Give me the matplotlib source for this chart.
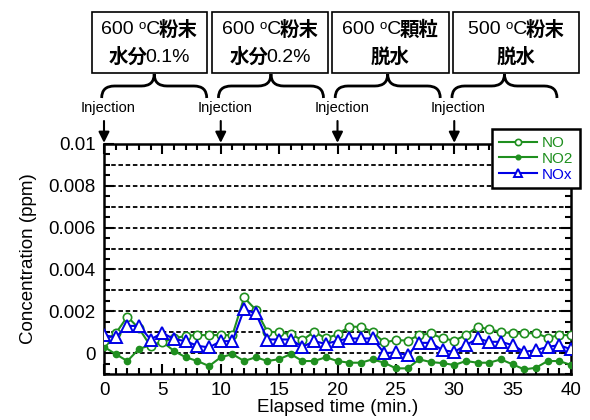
import matplotlib
matplotlib.use("Agg")
import matplotlib.pyplot as plt
import matplotlib.transforms as mtransforms
from matplotlib.path import Path
from matplotlib.patches import PathPatch, Rectangle
from matplotlib.ticker import MultipleLocator, FixedLocator, FixedFormatter

plt.rcParams['font.family'] = ['Liberation Sans', 'Noto Sans CJK JP', 'DejaVu Sans']

# elapsed time (min.)
time_min = list(range(0, 41))

no_ppm = [0.00057, 0.00094, 0.00174, 0.00118, 0.00032, 0.00054, 0.0007, 0.00083, 0.00086, 0.00086,
          0.00086, 0.00086, 0.00266, 0.00207, 0.00102, 0.001, 0.0009, 0.00062, 0.00102, 0.0007,
          0.0009, 0.00126, 0.00126, 0.00102, 0.00051, 0.00062, 0.0006, 0.00086, 0.00094, 0.0007,
          0.0006, 0.00086, 0.00126, 0.00113, 0.00102, 0.00094, 0.00094, 0.00096, 0.00073, 0.00086,
          0.00086]
no2_ppm = [0.0003, -0.00005, -0.00038, 0.0002, 0.00038, 0.00054, 0.0001, -0.0002, -0.00038, -0.00062,
           -0.0002, -0.00005, -0.00038, -0.0002, -0.00038, -0.00029, -0.00005, -0.00038, -0.00038, -0.0002,
           -0.00038, -0.00046, -0.00046, -0.0003, -0.00046, -0.00073, -0.00073, -0.0003, -0.00043, -0.00048,
           -0.00057, -0.00038, -0.00046, -0.00046, -0.0003, -0.00054, -0.00078, -0.0007, -0.00038, -0.00038,
           -0.00057]
nox_ppm = [0.00086, 0.00075, 0.0013, 0.0013, 0.00065, 0.00097, 0.00067, 0.00057, 0.00035, 0.00027,
           0.00057, 0.00057, 0.00209, 0.0019, 0.00065, 0.00065, 0.00065, 0.0003, 0.00057, 0.00044,
           0.00059, 0.0007, 0.0007, 0.0007, 0.0, 0.00003, -0.0001, 0.00049, 0.00049, 0.00014,
           0.00006, 0.00038, 0.0007, 0.00054, 0.00054, 0.00038, 0.00006, 0.00014, 0.0003, 0.00038,
           0.00018]

injection_times = [0, 10, 20, 30]
# box texts split into (text, cjk) runs so the Japanese parts can be bold
box_line1 = [[('600 ᵒC', False), ('粉末', True)],
             [('600 ᵒC', False), ('粉末', True)],
             [('600 ᵒC', False), ('顆粒', True)],
             [('500 ᵒC', False), ('粉末', True)]]
box_line2 = [[('水分', True), ('0.1%', False)],
             [('水分', True), ('0.2%', False)],
             [('脱水', True)],
             [('脱水', True)]]

ytick_vals = [0, 0.002, 0.004, 0.006, 0.008, 0.01]
ytick_labels = ['0', '0.002', '0.004', '0.006', '0.008', '0.01']

green = '#1f8f1f'
blue = '#0000e6'

W, H = 590, 420
fig = plt.figure(figsize=(5.9, 4.2), dpi=100)
ax = fig.add_axes([104 / W, 1 - 374 / H, (571 - 104) / W, (374 - 144) / H])
renderer = fig.canvas.get_renderer()


def runs_text(cx_px, cy_px, runs, size=14):
    # draw a line made of several runs, centred on (cx_px, cy_px) from top-left
    pieces = []
    for s, cjk in runs:
        t = fig.text(0, 0, s, fontsize=size, fontweight='bold' if cjk else 'normal',
                     va='center', ha='left')
        w = t.get_window_extent(renderer).width
        pieces.append((t, w))
    gap = -2
    total = sum(w for _, w in pieces) + gap * (len(pieces) - 1)
    x = cx_px - total / 2
    for t, w in pieces:
        t.set_position((x / W, 1 - cy_px / H))
        x += w + gap


# dashed grid every 0.001
for k in range(0, 10):
    ax.axhline(k * 0.001, color='black', lw=1.3, ls=(0, (2.5, 1.5)), zorder=1)

l_no2, = ax.plot(time_min, no2_ppm, color=green, lw=1.5, marker='o', ms=4.5,
                 mfc=green, mec=green, zorder=3)
l_no, = ax.plot(time_min, no_ppm, color=green, lw=1.5, marker='o', ms=6,
                mfc='white', mec=green, mew=1.2, zorder=4)
l_nox, = ax.plot(time_min, nox_ppm, color=blue, lw=1.5, marker='^', ms=8,
                 mfc='white', mec=blue, mew=1.4, zorder=5)

ax.set_xlim(0, 40)
ax.set_ylim(-0.001, 0.01)
ax.xaxis.set_major_locator(MultipleLocator(5))
ax.xaxis.set_minor_locator(MultipleLocator(1))
ax.yaxis.set_major_locator(FixedLocator(ytick_vals))
ax.yaxis.set_major_formatter(FixedFormatter(ytick_labels))
ax.yaxis.set_minor_locator(MultipleLocator(0.0005))
ax.tick_params(which='both', direction='in', top=True, right=True, width=1.5,
               labelsize=13.5, pad=6)
ax.tick_params(which='major', length=7)
ax.tick_params(which='minor', length=4)
for sp in ax.spines.values():
    sp.set_linewidth(1.8)

ax.set_xlabel('Elapsed time (min.)', fontsize=13.5, labelpad=0)
ax.set_ylabel('Concentration (ppm)', fontsize=13.5, labelpad=8)

leg = ax.legend([l_no, l_no2, l_nox], ['NO', 'NO2', 'NOx'], loc='upper right',
                bbox_to_anchor=(580 / W, 1 - 129 / H), bbox_transform=fig.transFigure,
                fontsize=11, frameon=True, fancybox=False, framealpha=1,
                edgecolor='black', borderaxespad=0, handlelength=2.5,
                handletextpad=0.3, labelspacing=0.12, markerscale=0.75,
                borderpad=0.45)
leg.get_frame().set_linewidth(1.8)
for txt, c in zip(leg.get_texts(), [green, green, blue]):
    txt.set_color(c)
leg.set_zorder(10)

# injection arrows
xa = ax.get_xaxis_transform()
for t in injection_times:
    ax.annotate('', xy=(t, 1.005), xytext=(t, 1.1), xycoords=xa, textcoords=xa,
                arrowprops=dict(arrowstyle='-|>', color='black', lw=1.5,
                                mutation_scale=16, shrinkA=0, shrinkB=0))
    ax.text(t + 0.35, 1.157, 'Injection', transform=xa, ha='center', va='center',
            fontsize=10.5, clip_on=False)

# braces and boxes (figure pixel coordinates from top)
blend = mtransforms.blended_transform_factory(ax.transData, fig.transFigure)
yb, ym, yt = 1 - 98 / H, 1 - 86 / H, 1 - 74 / H
r = 1.1
box_edges = [(92, 207), (212, 328), (332, 449), (453, 579)]
for t, (bx0, bx1), s1, s2 in zip(injection_times, box_edges, box_line1, box_line2):
    x0, x1 = t - 0.2, t + 8.8
    xm = (x0 + x1) / 2
    verts = [(x0, yb), (x0, ym), (x0 + r, ym), (xm - r, ym), (xm, ym), (xm, yt),
             (xm, ym), (xm + r, ym), (x1 - r, ym), (x1, ym), (x1, yb)]
    codes = [Path.MOVETO, Path.CURVE3, Path.CURVE3, Path.LINETO, Path.CURVE3, Path.CURVE3,
             Path.CURVE3, Path.CURVE3, Path.LINETO, Path.CURVE3, Path.CURVE3]
    ax.add_patch(PathPatch(Path(verts, codes), transform=blend, fill=False,
                           lw=2, color='black', clip_on=False))
    fig.patches.append(Rectangle((bx0 / W, 1 - 73 / H), (bx1 - bx0) / W, 61 / H,
                                 transform=fig.transFigure, fill=False,
                                 lw=1.2, edgecolor='black'))
    cx = (bx0 + bx1) / 2
    runs_text(cx, 30, s1)
    runs_text(cx, 57, s2)

fig.savefig('out.png', dpi=100)
